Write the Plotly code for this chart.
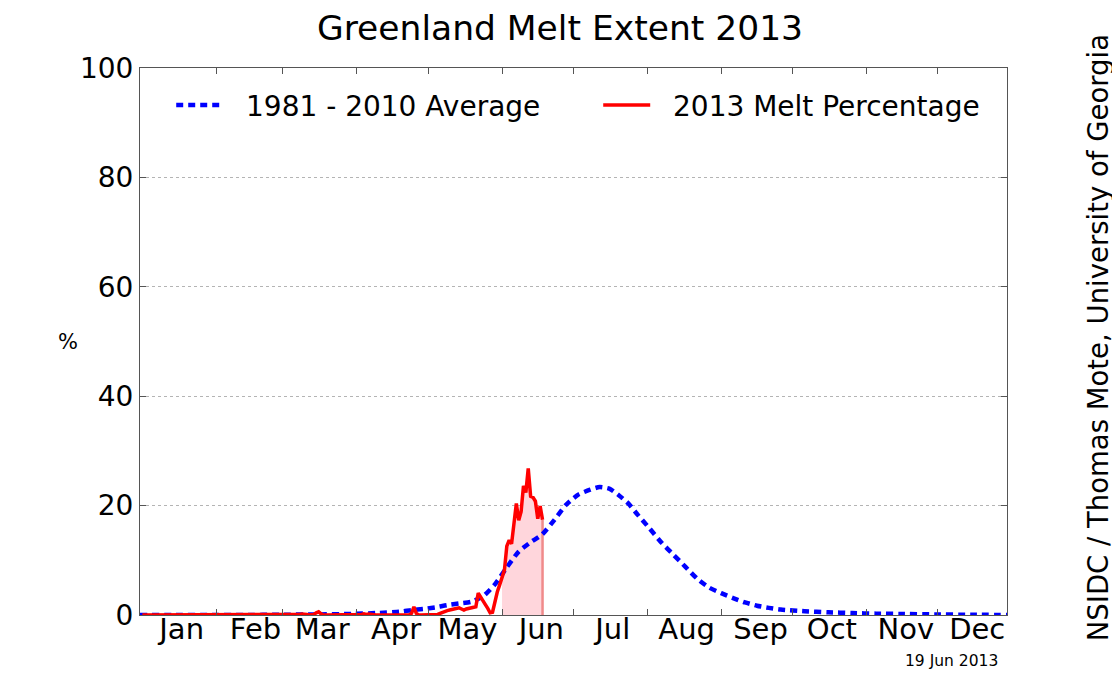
import plotly.graph_objects as go

# ---------------- data ----------------
month_labels = ["Jan", "Feb", "Mar", "Apr", "May", "Jun",
                "Jul", "Aug", "Sep", "Oct", "Nov", "Dec"]
month_label_days = [17.5, 48.5, 76.5, 107.5, 137.5, 168.5,
                    198.5, 229.5, 260.5, 290.5, 321.5, 351.5]
month_start_days = [32, 60, 91, 121, 152, 182, 213, 244, 274, 305, 335]
y_ticks = [0, 20, 40, 60, 80, 100]

# 1981-2010 average melt extent (%), read at selected days of year
avg_days = [0, 14, 29, 44, 59, 74, 89, 99, 109, 114, 119, 124, 129, 134, 139,
            144, 149, 154, 159, 164, 169, 174, 179, 184, 189, 193, 197, 201,
            205, 209, 214, 219, 224, 229, 234, 239, 244, 249, 254, 259, 264,
            269, 279, 289, 299, 309, 319, 334, 349, 364]
avg_values = [0.0, 0.0, 0.0, 0.0, 0.05, 0.1, 0.2, 0.35, 0.6, 0.9, 1.1, 1.4, 1.8,
              2.1, 2.4, 3.4, 5.6, 8.7, 11.6, 13.3, 14.8, 17.4, 20.2, 22.0, 22.9,
              23.4, 23.1, 21.9, 20.4, 18.3, 15.8, 13.2, 11.0, 8.8, 6.6, 5.0, 4.0,
              3.1, 2.3, 1.7, 1.3, 1.0, 0.7, 0.5, 0.35, 0.25, 0.2, 0.1, 0.05, 0.0]

# 2013 daily melt extent (%), day 1 .. 169
melt_values = [
    0, 0, 0, 0, 0, 0, 0, 0, 0, 0,                      # 1-10
    0, 0, 0, 0, 0, 0, 0, 0, 0, 0,                      # 11-20
    0, 0, 0, 0, 0, 0, 0, 0, 0, 0,                      # 21-30
    0, 0, 0, 0, 0, 0, 0, 0, 0, 0,                      # 31-40
    0, 0, 0, 0, 0, 0, 0, 0, 0, 0,                      # 41-50
    0, 0.1, 0, 0, 0, 0, 0, 0, 0, 0,                    # 51-60
    0, 0, 0, 0, 0, 0, 0.1, 0.2, 0.2, 0.1,              # 61-70
    0, 0, 0.1, 0.4, 0.6, 0.2, 0, 0, 0, 0,              # 71-80
    0, 0, 0, 0, 0, 0, 0, 0, 0, 0,                      # 81-90
    0, 0, 0.1, 0.2, 0.1, 0.2, 0.1, 0, 0, 0,            # 91-100
    0, 0, 0, 0, 0, 0, 0, 0, 0, 0,                      # 101-110
    0, 0, 0, 0.3, 1.5, 0.3, 0, 0, 0, 0,                # 111-120
    0, 0, 0, 0, 0.1, 0.3, 0.5, 0.6, 0.8, 0.9,          # 121-130
    1.0, 1.1, 1.2, 1.3, 1.1, 0.9, 1.1, 1.2, 1.2, 1.4,  # 131-140
    1.5, 4.0, 3.2, 2.6, 1.9, 1.2, 0.4, 0.5, 2.5, 4.2,  # 141-150
    5.5, 6.8, 8.2, 12.6, 13.7, 13.0, 16.8, 20.4, 17.3, 18.9,  # 151-160
    23.6, 22.4, 26.8, 21.7, 21.5, 20.8, 17.6, 19.9, 17.4,     # 161-169
]
melt_days = list(range(1, len(melt_values) + 1))
fill_start_day = 152  # shading starts 1 June

# ---------------- figure ----------------
fill_x = [d for d in melt_days if d >= fill_start_day]
fill_y = [v for d, v in zip(melt_days, melt_values) if d >= fill_start_day]

fig = go.Figure()
fig.add_trace(go.Scatter(x=fill_x, y=fill_y, mode="lines", fill="tozeroy",
                         fillcolor="#FFD6DC", line=dict(width=0),
                         showlegend=False, hoverinfo="skip"))
fig.add_trace(go.Scatter(x=[melt_days[-1], melt_days[-1]], y=[0, melt_values[-1]],
                         mode="lines", line=dict(color="#F08A8A", width=2.5),
                         showlegend=False, hoverinfo="skip"))
fig.add_trace(go.Scatter(x=avg_days, y=avg_values, mode="lines",
                         name="\u00a0\u00a01981 - 2010 Average", legendrank=1,
                         line=dict(color="#0000FF", width=4.5, dash="7px,5px",
                                   shape="spline", smoothing=0.6)))
fig.add_trace(go.Scatter(x=melt_days, y=melt_values, mode="lines",
                         name="\u00a0\u00a02013 Melt Percentage", legendrank=2,
                         line=dict(color="#FF0000", width=3.5)))

W, H = 1112, 676
axis_col = "#555555"
fig.update_layout(
    width=W, height=H,
    margin=dict(l=132, r=113, t=60, b=69),
    paper_bgcolor="white", plot_bgcolor="white",
    font=dict(family="DejaVu Sans", color="black"),
    title=dict(text="Greenland Melt Extent 2013", x=552 / W, xref="container",
               xanchor="center", y=1 - 20 / H, yref="container",
               yanchor="middle", font=dict(size=34.5, color="black")),
    legend=dict(orientation="h", x=0.036, y=0.932, xanchor="left",
                yanchor="middle", font=dict(size=28), bgcolor="rgba(0,0,0,0)",
                itemwidth=47, entrywidth=365, traceorder="normal"),
    xaxis=dict(range=[0, 364], tickmode="array", tickvals=month_label_days,
               ticktext=month_labels, ticks="", showgrid=False, zeroline=False,
               showline=True, linecolor=axis_col, linewidth=1, mirror="allticks",
               tickfont=dict(size=29), ticklabelstandoff=-12,
               minor=dict(tickmode="array", tickvals=month_start_days,
                          ticks="inside", ticklen=6, tickcolor=axis_col,
                          showgrid=False)),
    yaxis=dict(range=[0, 100], tickmode="array", tickvals=y_ticks,
               ticks="inside", ticklen=6, tickcolor=axis_col,
               showline=True, linecolor=axis_col, linewidth=1, mirror="allticks",
               showgrid=True, gridcolor="#b4b4b4", griddash="dot", gridwidth=1,
               zeroline=False, tickfont=dict(size=28)),
)

fig.add_annotation(text="%", x=-0.083, y=0.5, xref="paper", yref="paper",
                   xanchor="center", yanchor="middle",
                   showarrow=False, font=dict(size=21))
fig.add_annotation(text="NSIDC / Thomas Mote, University of Georgia",
                   x=1.105, y=0.506, xref="paper", yref="paper",
                   xanchor="center", yanchor="middle",
                   textangle=-90, showarrow=False, font=dict(size=27.5))
fig.add_annotation(text="19 Jun 2013", x=0.992, y=-0.084, xref="paper",
                   yref="paper", xanchor="right", yanchor="middle",
                   showarrow=False, font=dict(size=15.5))

fig.write_html("out.html")
